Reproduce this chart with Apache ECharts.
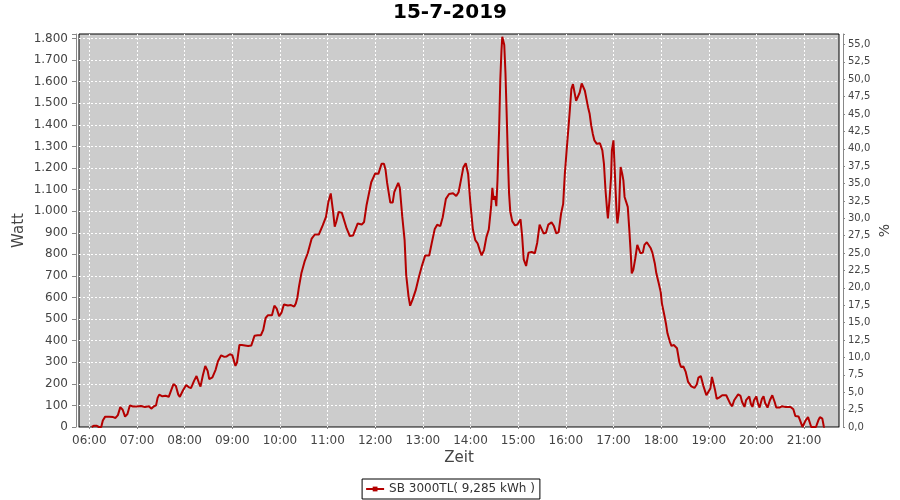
<!DOCTYPE html>
<html><head><meta charset="utf-8">
<script src="https://cdn.jsdelivr.net/npm/echarts@6/dist/echarts.min.js"></script>
<style>html,body{margin:0;padding:0;background:#fff}#c{width:900px;height:500px}</style>
</head><body><div id="c"></div>
<script>
const chartTitle = '15-7-2019';
const seriesName = 'SB 3000TL( 9,285 kWh )';
const hourTicks = ['06:00','07:00','08:00','09:00','10:00','11:00','12:00','13:00','14:00','15:00','16:00','17:00','18:00','19:00','20:00','21:00'];
const times = [
'06:03','06:04','06:06','06:09','06:12','06:15','06:17','06:20','06:25','06:30','06:33','06:36','06:39','06:42','06:45','06:48','06:51','06:55',
'07:00','07:05','07:10','07:15','07:18','07:21','07:24','07:26','07:28','07:32','07:36','07:40','07:43','07:46','07:49','07:52','07:54','07:58',
'08:02','08:05','08:08','08:12','08:15','08:18','08:20','08:23','08:26','08:29','08:31','08:35','08:39','08:42','08:46','08:50','08:53','08:57',
'09:00','09:04','09:06','09:09','09:12','09:20','09:24','09:28','09:32','09:36','09:39','09:42','09:45','09:50','09:53','09:56','09:59',
'10:02','10:05','10:10','10:14','10:18','10:20','10:22','10:24','10:27','10:31','10:35','10:40','10:44','10:49','10:54','10:58',
'11:01','11:04','11:07','11:09','11:11','11:14','11:18','11:24','11:28','11:32','11:38','11:43','11:46','11:49','11:55',
'12:00','12:04','12:08','12:11','12:13','12:15','12:19','12:22','12:24','12:29','12:31','12:34','12:37','12:39','12:42','12:44','12:47','12:51','12:55','12:59',
'13:03','13:08','13:11','13:15','13:18','13:22','13:25','13:29','13:33','13:38','13:42','13:45','13:48','13:51','13:54','13:57',
'14:00','14:03','14:06','14:09','14:12','14:14','14:17','14:20','14:23','14:26','14:27:30','14:29','14:31','14:32:30','14:34','14:36','14:37:30','14:39','14:40','14:41','14:42:30','14:44','14:45:30','14:47','14:48:30','14:50','14:52:30','14:56','14:59',
'15:03','15:05','15:07','15:10','15:13','15:17','15:21','15:24','15:27','15:29','15:32','15:35','15:38','15:42','15:45','15:48','15:51','15:54','15:56:40','15:58:45',
'16:01','16:03','16:05','16:07','16:09','16:11','16:13','16:15','16:17:30','16:20','16:21:40','16:24','16:26','16:28','16:30','16:32','16:34','16:36','16:39','16:43','16:46','16:48','16:50','16:52','16:53','16:55','16:57','16:58',
'17:00','17:01','17:02:30','17:04','17:05','17:07','17:08','17:09','17:11','17:12:30','17:14','17:16','17:18','17:20','17:22','17:23','17:25','17:27:30','17:30','17:32','17:34','17:37','17:39','17:42','17:44','17:47','17:49','17:52','17:54','17:57','17:59:30',
'18:01','18:04','18:06','18:08','18:11','18:13','18:16','18:18','18:20','18:23','18:25','18:28','18:31','18:34','18:38','18:42','18:45','18:47','18:50','18:53','18:57','18:59',
'19:02','19:04','19:06','19:08','19:10','19:13','19:17','19:22','19:24','19:27','19:29:30','19:32','19:37','19:40','19:42','19:45','19:47','19:51','19:53','19:55','19:57',
'20:00','20:02','20:04','20:07','20:09','20:11','20:14','20:17','20:20','20:23','20:25','20:29','20:32','20:37','20:43','20:44','20:46:30','20:49','20:53','20:55','20:58',
'21:00','21:02','21:05','21:07','21:09','21:15','21:18','21:20','21:23','21:25','21:26'
];
const watts = [
0,0,6,6,0,0,30,48,48,46,42,55,92,80,48,60,100,95,
95,97,93,96,85,95,100,135,150,142,145,140,170,199,190,150,140,170,
195,185,180,215,236,205,187,240,283,260,222,230,265,305,332,325,327,337,
333,283,300,380,380,375,378,423,425,425,450,505,518,518,562,548,513,
530,568,563,565,558,572,600,650,712,766,805,873,892,892,935,974,
1043,1082,997,928,951,997,992,920,885,887,943,938,950,1026,1134,
1175,1173,1220,1220,1192,1131,1040,1040,1088,1131,1108,977,866,705,603,562,590,634,695,749,
795,795,849,918,937,931,972,1057,1080,1083,1070,1088,1145,1203,1222,1172,
1030,915,866,850,815,795,820,880,915,1023,1108,1054,1069,1023,1146,1377,1608,1746,1808,1815,1770,1640,1454,1254,1085,1000,954,934,938,
962,885,777,746,808,811,805,854,938,938,897,900,938,948,931,897,903,988,1034,1172,
1280,1372,1465,1566,1589,1582,1511,1504,1550,1592,1597,1558,1520,1482,1451,1397,1358,1328,1312,1315,1282,1220,1097,1005,966,1051,1159,1282,
1328,1243,1113,990,943,1005,1113,1205,1174,1143,1066,1043,1020,912,789,712,728,782,844,844,805,808,844,856,848,828,808,759,712,666,625,
573,519,481,434,396,376,380,383,365,300,278,281,255,209,188,181,198,229,236,193,147,139,
178,232,224,170,131,136,147,147,139,108,96,124,151,144,116,93,124,142,108,93,124,
142,108,90,131,142,111,90,124,147,116,90,90,96,93,93,100,82,51,49,31,0,
0,31,46,23,0,0,31,46,39,0,0
];
const xStart = '05:47', xEnd = '21:44';
const wattMax = 1821, pctMax = 56.5;

function toTs(s){const p=s.split(':').map(Number);return new Date(2019,6,15,p[0],p[1],p[2]||0).getTime();}
function pad(n){return (n<10?'0':'')+n;}
function pad3(n){n=Math.round(n);return n<10?'00'+n:(n<100?'0'+n:String(n));}
const FONT = 'DejaVu Sans';
const chart = echarts.init(document.getElementById('c'), null, {renderer:'canvas'});
chart.setOption({
  animation:false,
  backgroundColor:'#ffffff',
  title:{text:chartTitle,left:'center',top:1,padding:[2,0,0,0],textStyle:{fontFamily:FONT,fontWeight:'bold',fontSize:20,color:'#000'}},
  grid:{left:79,right:61,top:34,bottom:73,show:true,backgroundColor:'#cccccc',borderColor:'#000',borderWidth:1,containLabel:false,outerBoundsMode:'none'},
  legend:{bottom:1,left:'center',data:[seriesName],borderColor:'#000',borderWidth:1,borderRadius:0,padding:[4,5,4,3],itemWidth:18,itemHeight:6,itemGap:4,
    textStyle:{fontFamily:FONT,fontSize:12,color:'#333'}},
  xAxis:{type:'time',min:toTs(xStart),max:toTs(xEnd),minInterval:3600000,maxInterval:3600000,splitNumber:16,offset:4,
    name:'Zeit',nameLocation:'middle',nameGap:20,nameMoveOverlap:false,nameTextStyle:{fontFamily:FONT,fontSize:15,color:'#444'},
    axisLine:{lineStyle:{color:'#888'}},axisTick:{length:2,lineStyle:{color:'#888'}},
    axisLabel:{margin:4,fontFamily:FONT,fontSize:12,color:'#444',hideOverlap:false,
      formatter:function(v){const d=new Date(v);const s=pad(d.getHours())+':'+pad(d.getMinutes());return hourTicks.indexOf(s)>=0?s:'';}},
    splitLine:{show:true,showMinLine:false,showMaxLine:false,lineStyle:{color:'#fff',type:[2,2],width:1}}},
  yAxis:[
    {type:'value',min:0,max:wattMax,interval:100,offset:3,
     name:'Watt',nameLocation:'middle',nameGap:49,nameMoveOverlap:false,nameTextStyle:{fontFamily:FONT,fontSize:15,color:'#444'},
     axisLine:{show:true,lineStyle:{color:'#888'}},axisTick:{show:true,length:4,lineStyle:{color:'#888'}},
     axisLabel:{margin:8,fontFamily:FONT,fontSize:12,color:'#444',
       formatter:function(v){if(Math.abs(v%100)>1e-6)return '';return v>=1000?Math.floor(v/1000)+'.'+pad3(v%1000):String(v);}},
     splitLine:{show:true,showMinLine:false,showMaxLine:false,lineStyle:{color:'#fff',type:[2,2],width:1}}},
    {type:'value',min:0,max:pctMax,interval:2.5,offset:4,position:'right',
     name:'%',nameLocation:'middle',nameGap:35,nameRotate:90,nameMoveOverlap:false,nameTextStyle:{fontFamily:FONT,fontSize:14,color:'#444'},
     axisLine:{show:true,lineStyle:{color:'#888'}},axisTick:{show:true,length:2,lineStyle:{color:'#888'}},
     axisLabel:{margin:5,fontFamily:FONT,fontSize:10,color:'#444',
       formatter:function(v){const r=v/2.5;if(Math.abs(r-Math.round(r))>1e-6)return '';return v.toFixed(1).replace('.',',');}},
     splitLine:{show:false}}
  ],
  series:[{name:seriesName,type:'line',yAxisIndex:0,showSymbol:false,symbol:'rect',symbolSize:4,
    lineStyle:{color:'#b40000',width:2},itemStyle:{color:'#b40000'},
    data:times.map(function(t,i){return [toTs(t),watts[i]];})}]
});
</script></body></html>
